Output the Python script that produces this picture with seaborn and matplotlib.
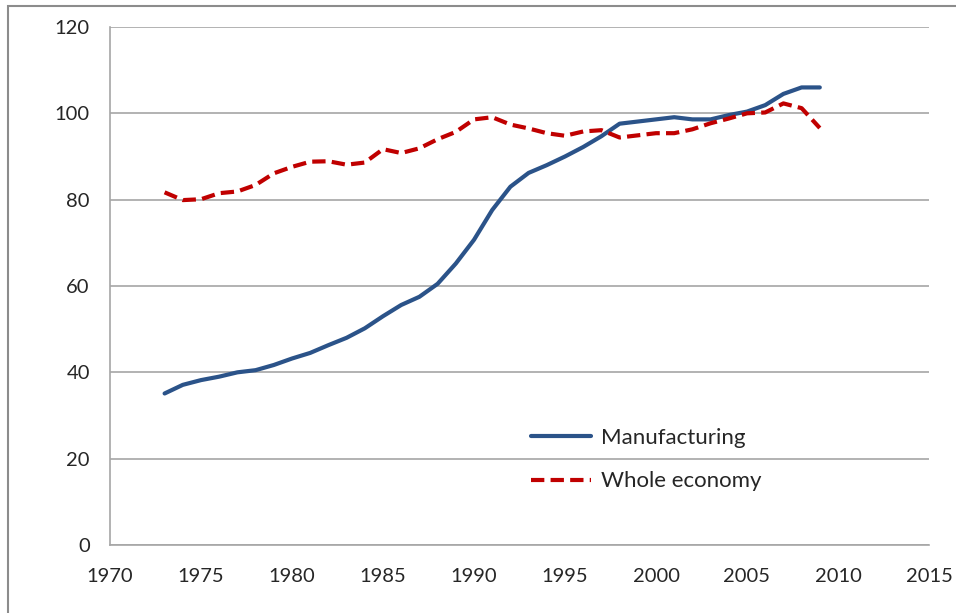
import matplotlib
matplotlib.use("Agg")
import matplotlib.pyplot as plt
import seaborn as sns
import pandas as pd
from matplotlib.patches import Rectangle
from matplotlib.lines import Line2D

years = list(range(1973, 2010))

manufacturing = [35.1, 37.1, 38.2, 39.0, 40.0, 40.5, 41.7, 43.2, 44.5, 46.3,
                 48.0, 50.2, 53.0, 55.6, 57.5, 60.5, 65.2, 70.7, 77.6, 83.0,
                 86.2, 88.0, 90.0, 92.2, 94.7, 97.6, 98.1, 98.6, 99.1, 98.6,
                 98.6, 99.6, 100.4, 101.9, 104.5, 106.0, 106.0]

whole_economy = [81.7, 79.9, 80.1, 81.5, 81.9, 83.4, 86.1, 87.6, 88.8, 88.9,
                 88.1, 88.6, 91.7, 90.8, 91.9, 94.0, 95.7, 98.6, 99.1, 97.4,
                 96.5, 95.4, 94.8, 95.8, 96.1, 94.4, 94.9, 95.4, 95.4, 96.3,
                 97.7, 98.8, 100.0, 100.2, 102.3, 101.2, 96.6]

series_names = ["Manufacturing", "Whole economy"]
x_ticks = [1970, 1975, 1980, 1985, 1990, 1995, 2000, 2005, 2010, 2015]
y_ticks = [0, 20, 40, 60, 80, 100, 120]

df = pd.DataFrame({
    "year": years * 2,
    "value": manufacturing + whole_economy,
    "series": [series_names[0]] * len(years) + [series_names[1]] * len(years),
})

sns.set_theme(style="white")
plt.rcParams["font.family"] = ["Lato", "DejaVu Sans"]

W, H = 956, 613
fig = plt.figure(figsize=(W / 100, H / 100), dpi=100)
ax = fig.add_axes([110 / W, (H - 545) / H, (929 - 110) / W, (545 - 27) / H])

grey = "#A6A6A6"
palette = {series_names[0]: "#2B5389", series_names[1]: "#C00000"}
dashes = {series_names[0]: "", series_names[1]: (3.2, 1.5)}

sns.lineplot(data=df, x="year", y="value", hue="series", style="series",
             palette=palette, dashes=dashes, linewidth=3.0, ax=ax,
             legend=False)

ax.set_xlim(1970, 2015)
ax.set_ylim(0, 120)
ax.set_xticks(x_ticks)
ax.set_yticks(y_ticks)
ax.set_xlabel("")
ax.set_ylabel("")
ax.yaxis.grid(True, color=grey, linewidth=1.2)
ax.xaxis.grid(False)
for side in ["top", "right"]:
    ax.spines[side].set_visible(False)
for side in ["left", "bottom"]:
    ax.spines[side].set_color(grey)
    ax.spines[side].set_linewidth(1.2)
ax.tick_params(axis="both", which="major", direction="out", length=4.5,
               width=1.0, color=grey, labelsize=14.5, labelcolor="#262626")
ax.tick_params(axis="y", pad=10)
ax.tick_params(axis="x", pad=12)

# legend drawn with proxy lines so it sits over the gridlines without a box
handles = [
    Line2D([], [], color=palette[series_names[0]], linewidth=3.0),
    Line2D([], [], color=palette[series_names[1]], linewidth=3.0,
           dashes=dashes[series_names[1]]),
]
ax.legend(handles, series_names, loc="upper left",
          bbox_to_anchor=((531 - 110) / 819, (545 - 428) / 518),
          frameon=False, fontsize=16, handlelength=2.7, handletextpad=0.45,
          labelspacing=1.05, borderaxespad=0, borderpad=0,
          labelcolor="#262626")

# outer chart border
fig.patches.append(Rectangle((7.5 / W, -0.01), 1.0, (H - 5.5) / H + 0.01,
                             transform=fig.transFigure, fill=False,
                             edgecolor="#8C8C8C", linewidth=1.5))

fig.savefig("out.png", dpi=100)
